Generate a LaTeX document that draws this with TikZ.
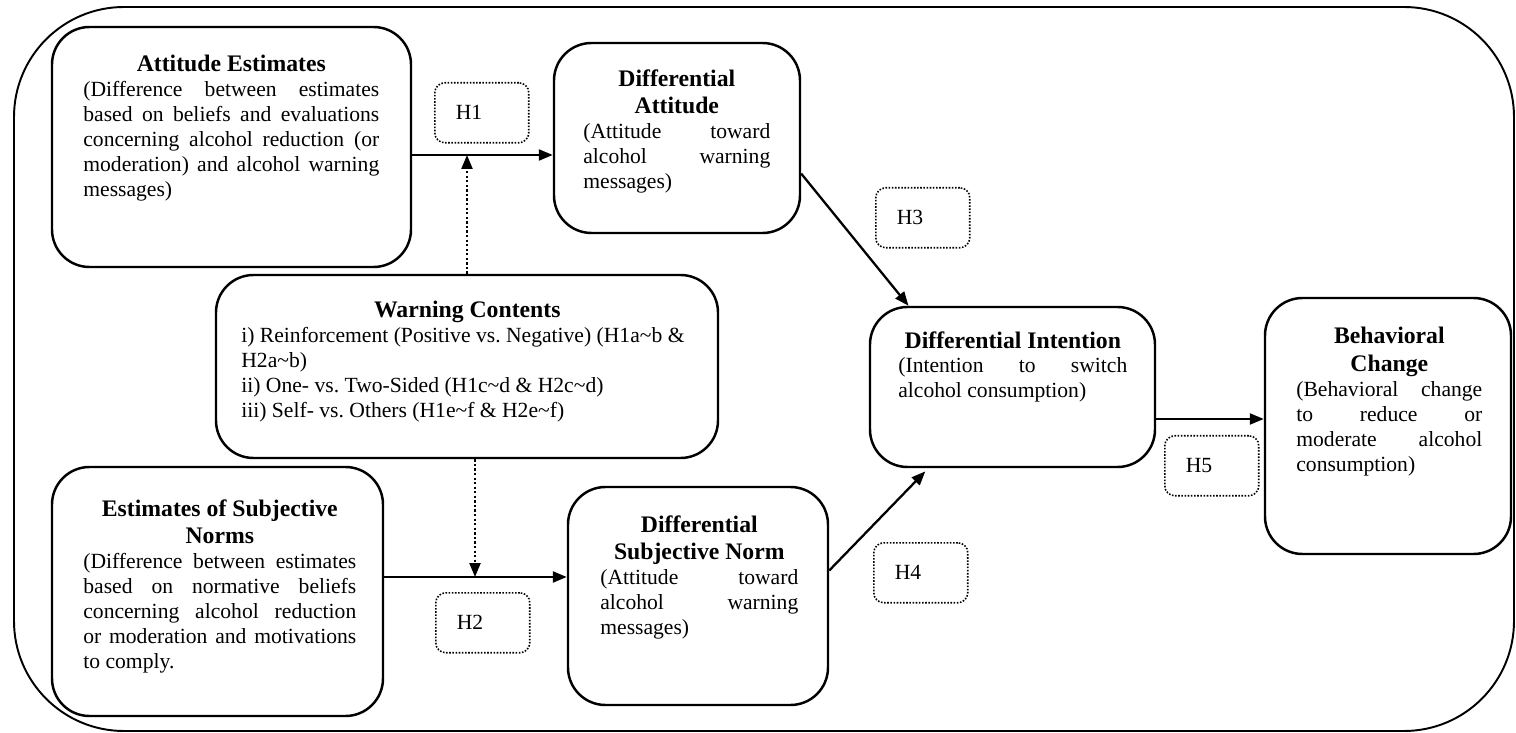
\documentclass[tikz,border=0pt]{standalone}
\usepackage{fontspec}
\setmainfont{Liberation Serif}
\usetikzlibrary{arrows.meta, fit}
\setlength{\parindent}{0pt}
\frenchspacing
\newcommand{\boxtitle}[1]{{\centering\fontsize{13.5}{15.8}\selectfont\bfseries #1\par}}

\begin{document}
\begin{tikzpicture}[x=0.02cm, y=-0.02cm, >={Triangle[length=0.28cm, width=0.22cm]},
            box/.style={draw, line width=1.4pt, rounded corners=0.75cm, inner sep=0pt},
            hyp/.style={draw, line width=0.9pt, dash pattern=on 0.9pt off 0.9pt, rounded corners=0.2cm, anchor=north west,
                minimum height=1.2cm, text width=1.04cm, inner xsep=0.42cm, inner ysep=0pt, align=left,
                font=\fontsize{12.3}{14.2}\selectfont},
            txt/.style={anchor=north west, inner sep=0pt, align=justify, font=\fontsize{12.3}{14.2}\selectfont},
            conn/.style={->, line width=1.3pt},
            modr/.style={->, line width=1.3pt, dash pattern=on 1.3pt off 1.3pt}]
            \useasboundingbox (0, 0) rectangle (1516, 733);
            \draw[line width=1.1pt, rounded corners=2.2cm] (14, 7) rectangle (1514, 731);
            \node[box, fit={(52, 27) (411, 267)}] (att) {};
            \node[txt, text width=5.92cm] (atttxt) at (83, 55) {\boxtitle{Attitude Estimates}(Difference between estimates\linebreak based on beliefs and evaluations\linebreak concerning alcohol reduction (or\linebreak moderation) and alcohol warning\linebreak messages)};
            \node[box, fit={(554, 43) (800, 233)}] (dat) {};
            \node[txt, text width=3.74cm] (dattxt) at (583, 69) {\boxtitle{Differential\\Attitude}(Attitude toward\linebreak alcohol warning\linebreak messages)};
            \node[box, fit={(216, 275) (718, 458)}] (warn) {};
            \node[txt, text width=9.4cm] (warntxt) at (241, 301) {\boxtitle{Warning Contents\hspace*{0.36cm}}i) Reinforcement (Positive vs. Negative) (H1a\textasciitilde b \&\\H2a\textasciitilde b)\\ii) One- vs. Two-Sided (H1c\textasciitilde d \& H2c\textasciitilde d)\\iii) Self- vs. Others (H1e\textasciitilde f \& H2e\textasciitilde f)};
            \node[box, fit={(52, 467) (383, 716)}] (esn) {};
            \node[txt, text width=5.46cm] (esntxt) at (83, 499) {\boxtitle{Estimates of Subjective\\Norms}(Difference between estimates\linebreak based on normative beliefs\linebreak concerning alcohol reduction\linebreak or moderation and motivations\linebreak to comply.};
            \node[box, fit={(568, 487) (828, 705)}] (dsn) {};
            \node[txt, text width=3.96cm] (dsntxt) at (600, 515) {\boxtitle{Differential\\Subjective Norm}(Attitude toward\linebreak alcohol warning\linebreak messages)};
            \node[box, fit={(870, 307) (1155, 467)}] (din) {};
            \node[txt, text width=4.58cm] (dintxt) at (898, 331) {\boxtitle{Differential Intention}(Intention to switch\linebreak alcohol consumption)};
            \node[box, fit={(1265, 298) (1511, 554)}] (beh) {};
            \node[txt, text width=3.72cm] (behtxt) at (1296, 327) {\boxtitle{Behavioral\\Change}(Behavioral change\linebreak to reduce or\linebreak moderate alcohol\linebreak consumption)};
            \foreach \n/\x/\y in {1/434/82, 2/435/592, 3/875/187, 4/873/542, 5/1164/435} {
                % hypothesis tags
                \node[hyp] (h\n) at (\x, \y) {H\n};
            }
            \coordinate (j1) at (467, 155);
            \coordinate (j2) at (475, 577);
            \coordinate (j5) at (1210, 419);
            \draw[conn] (att.east |- j1) -- (dat.west |- j1);
            \draw[modr] (warn.north -| j1) -- (j1);
            \draw[conn] (esn.east |- j2) -- (dsn.west |- j2);
            \draw[modr] (warn.south -| j2) -- (j2);
            \draw[conn] (dat.-16) -- (din.142);
            \draw[conn, shorten >=2.5pt] (dsn.11) -- (din.-136);
            \draw[conn] (din.east |- j5) -- (beh.west |- j5);
        \end{tikzpicture}
\end{document}
